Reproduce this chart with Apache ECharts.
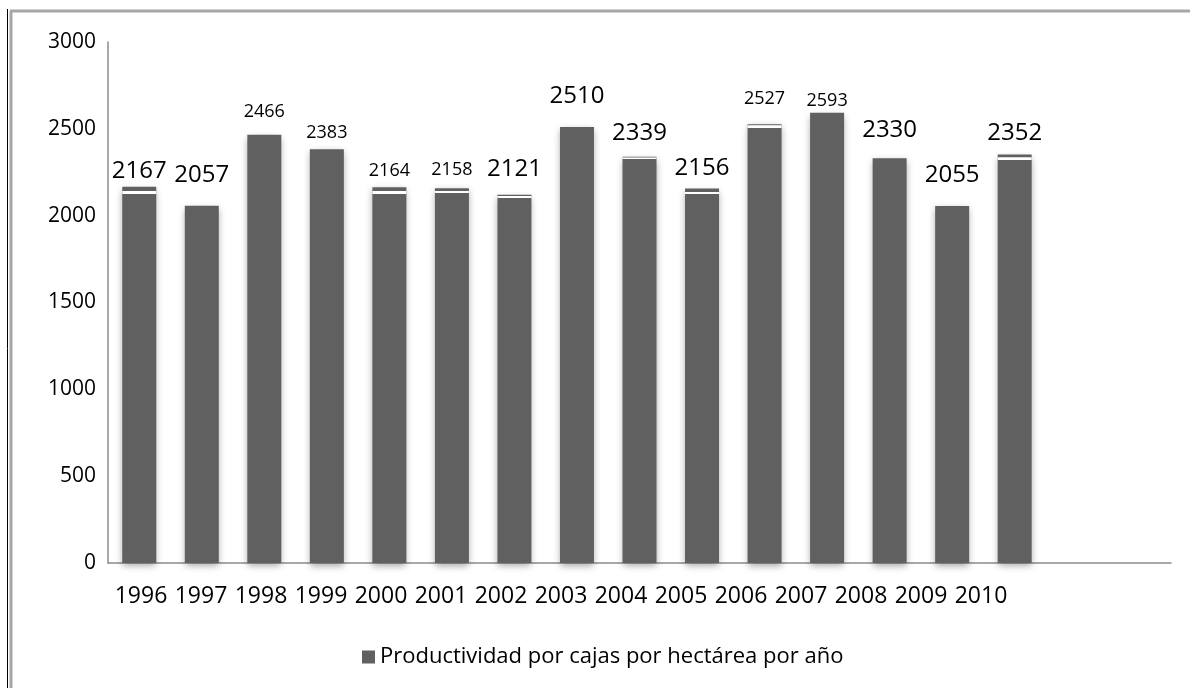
<!DOCTYPE html>
<html>
<head>
<meta charset="utf-8">
<title>Productividad por cajas por hectárea por año</title>
<script src="https://cdn.jsdelivr.net/npm/echarts@6/dist/echarts.min.js"></script>
<style>
  html, body { margin: 0; padding: 0; background: #fff; }
  #chart { width: 1190px; height: 688px; }
</style>
</head>
<body>
<div id="chart"></div>
<script>
// datos
const anios = ["1996", "1997", "1998", "1999", "2000", "2001", "2002", "2003",
  "2004", "2005", "2006", "2007", "2008", "2009", "2010"];
const productividad = [2167, 2057, 2466, 2383, 2164, 2158, 2121, 2510,
  2339, 2156, 2527, 2593, 2330, 2055, 2352];
// franja blanca que corta algunas barras (desde / hasta)
const corteDesde = [2125, null, null, null, 2125, 2131, 2102, null,
  2326, 2125, 2505, null, null, null, 2320];
const corteHasta = [2142, null, null, null, 2142, 2142, 2113, null,
  2335, 2136, 2520, null, null, null, 2337];
const ticksY = [0, 500, 1000, 1500, 2000, 2500, 3000];

const NOMBRE = "Productividad por cajas por hectárea por año";
const FUENTE = "'Open Sans', 'Noto Sans', sans-serif";
const GRIS_BARRA = "#606060";

// tamaño y separación de cada etiqueta, tal como aparecen
const etiquetaGrande = [true, true, false, false, false, false, true, true,
  true, true, false, false, true, true, true];
const distEtiqueta = [4, 19, 14, 7, 7, 9, 13, 19, 12, 8, 16, 3, 16, 19, 9];

const ejeX = anios.concat(["", ""]);

const serieBarras = productividad.map((v, i) => ({
  value: v,
  label: {
    fontSize: etiquetaGrande[i] ? 24 : 18,
    distance: distEtiqueta[i],
  },
}));

const serieBase = corteDesde.map((v) => (v == null ? "-" : v));
const serieFranja = corteDesde.map((v, i) =>
  v == null ? "-" : corteHasta[i] - v
);

const chart = echarts.init(document.getElementById("chart"));

const option = {
  animation: false,
  textStyle: { fontFamily: FUENTE },
  graphic: [
    {
      type: "line",
      shape: { x1: 10, y1: 11, x2: 1190, y2: 11 },
      style: { stroke: "#a6a6a6", lineWidth: 3 },
    },
    {
      type: "line",
      shape: { x1: 11, y1: 11, x2: 11, y2: 688 },
      style: { stroke: "#a6a6a6", lineWidth: 3 },
    },
    {
      type: "line",
      shape: { x1: 7.5, y1: 9, x2: 7.5, y2: 688 },
      style: { stroke: "#000", lineWidth: 1 },
    },
  ],
  legend: {
    data: [NOMBRE],
    left: 357,
    top: 641,
    itemWidth: 13,
    itemHeight: 13,
    icon: "rect",
    textStyle: { fontSize: 22, color: "#000", fontFamily: FUENTE },
  },
  grid: [
    { left: 108, right: 19, top: 42, bottom: 125 },
    // rejilla auxiliar solo para los rótulos de años (van más juntos que las barras)
    { left: 111, width: 900, top: 42, bottom: 125 },
  ],
  xAxis: [
    {
      type: "category",
      data: ejeX,
      gridIndex: 0,
      axisLine: { lineStyle: { color: "#8c8c8c", width: 1.5 } },
      axisTick: { show: false },
      axisLabel: { show: false },
    },
    {
      type: "category",
      data: anios,
      gridIndex: 1,
      axisLine: { show: false },
      axisTick: { show: false },
      axisLabel: {
        interval: 0,
        fontSize: 23,
        color: "#000",
        margin: 22,
        fontFamily: FUENTE,
      },
    },
  ],
  yAxis: [
    {
      type: "value",
      gridIndex: 0,
      min: ticksY[0],
      max: ticksY[ticksY.length - 1],
      interval: ticksY[1] - ticksY[0],
      splitLine: { show: false },
      axisLine: { show: true, lineStyle: { color: "#8c8c8c", width: 1.5 } },
      axisTick: { show: false },
      axisLabel: {
        fontSize: 21,
        color: "#000",
        margin: 12,
        fontFamily: FUENTE,
        formatter: (v) => String(v),
      },
    },
    { type: "value", gridIndex: 1, show: false },
  ],
  series: [
    {
      name: NOMBRE,
      type: "bar",
      data: serieBarras,
      barWidth: 34,
      barGap: "-100%",
      itemStyle: {
        color: GRIS_BARRA,
        shadowColor: "rgba(0,0,0,0.35)",
        shadowBlur: 7,
        shadowOffsetY: 3,
      },
      label: {
        show: true,
        position: "top",
        color: "#000",
        fontFamily: FUENTE,
      },
    },
    {
      name: "base",
      type: "bar",
      stack: "corte",
      data: serieBase,
      barWidth: 34,
      barGap: "-100%",
      itemStyle: { color: "rgba(0,0,0,0)" },
      silent: true,
    },
    {
      name: "franja",
      type: "bar",
      stack: "corte",
      data: serieFranja,
      barWidth: 34,
      barGap: "-100%",
      itemStyle: { color: "#ffffff" },
      silent: true,
    },
  ],
};

chart.setOption(option);
window.addEventListener("resize", chart.resize);
</script>
</body>
</html>
